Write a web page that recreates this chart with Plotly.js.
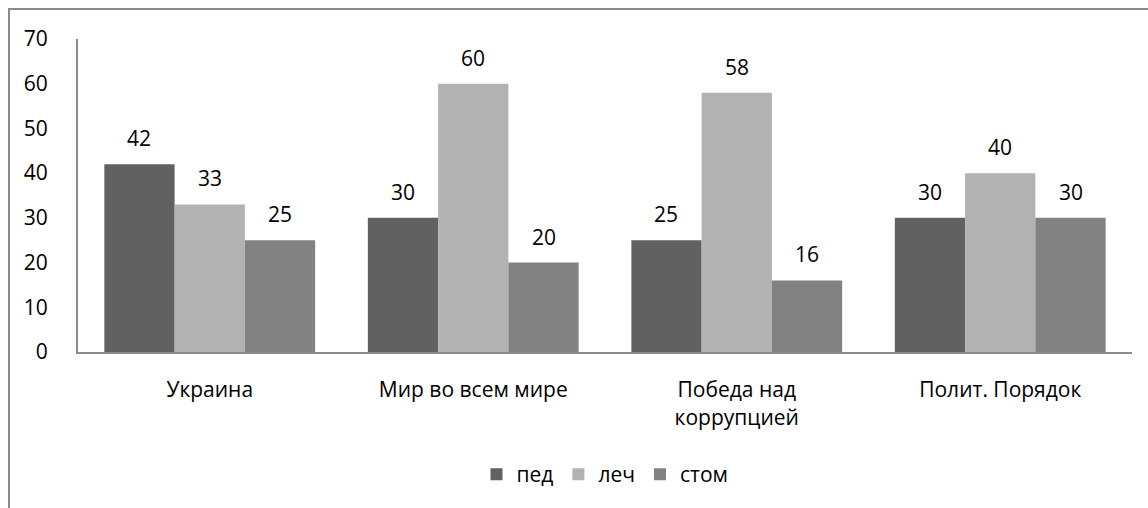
<!DOCTYPE html>
<html>
<head>
<meta charset="utf-8">
<script src="https://cdn.plot.ly/plotly-3.0.1.min.js"></script>
<style>
  html, body { margin: 0; padding: 0; background: #fff; }
  #wrap { position: relative; width: 1148px; height: 508px; overflow: hidden; }
  #chart { position: absolute; left: 0; top: 0; width: 1148px; height: 508px; }
  #frame { position: absolute; left: 8px; top: 8px; width: 1200px; height: 600px;
           border-top: 2px solid #8a8a8a; border-left: 2px solid #8a8a8a; pointer-events: none; }
</style>
</head>
<body>
<div id="wrap">
  <div id="chart"></div>
  <div id="frame"></div>
</div>
<script>
// Categories and series
const categories = ["Украина", "Мир во всем мире", "Победа над<br>коррупцией", "Полит. Порядок"];
const seriesNames = ["пед", "леч", "стом"];
const ped  = [42, 30, 25, 30];
const lech = [33, 60, 58, 40];
const stom = [25, 20, 16, 30];
const yTicks = [0, 10, 20, 30, 40, 50, 60, 70];

const colors = ["#616161", "#b2b2b2", "#828282"];
const font = { family: "Open Sans, Noto Sans, sans-serif", size: 21, color: "#000" };

const seriesValues = [ped, lech, stom];
const offsets = [-1, 0, 1];

const traces = seriesValues.map((vals, i) => ({
  type: "bar",
  name: seriesNames[i],
  x: categories,
  y: vals,
  marker: { color: colors[i], line: { width: 0 } },
  hoverinfo: "skip"
}));

// Value labels above each bar, placed with the axis scale
const annotations = [];
seriesValues.forEach((vals, i) => {
  vals.forEach((v, j) => {
    annotations.push({
      x: j + offsets[i] * (0.8 / 3),
      y: v,
      xref: "x",
      yref: "y",
      text: String(v),
      showarrow: false,
      yanchor: "bottom",
      yshift: 10,
      font: font
    });
  });
});

const layout = {
  width: 1148,
  height: 508,
  margin: { l: 78, r: 16, t: 39, b: 156 },
  paper_bgcolor: "#fff",
  plot_bgcolor: "#fff",
  barmode: "group",
  bargap: 0.2,
  bargroupgap: 0,
  font: font,
  showlegend: true,
  legend: {
    orientation: "h",
    x: 0.5,
    xanchor: "center",
    y: -0.326,
    yanchor: "top",
    font: font,
    itemwidth: 30,
    tracegroupgap: 0,
    traceorder: "normal"
  },
  xaxis: {
    type: "category",
    showline: true,
    linecolor: "#8a8a8a",
    linewidth: 2,
    ticks: "",
    showgrid: false,
    zeroline: false,
    tickfont: font,
    ticklabelstandoff: 18,
    fixedrange: true
  },
  yaxis: {
    range: [0, 70],
    tickvals: yTicks,
    ticktext: yTicks.map(String),
    showline: true,
    linecolor: "#8a8a8a",
    linewidth: 2,
    ticks: "",
    showgrid: false,
    zeroline: false,
    tickfont: font,
    ticklabelstandoff: 24,
    fixedrange: true
  },
  annotations: annotations
};

Plotly.newPlot("chart", traces, layout, { displayModeBar: false, staticPlot: true });
</script>
</body>
</html>
